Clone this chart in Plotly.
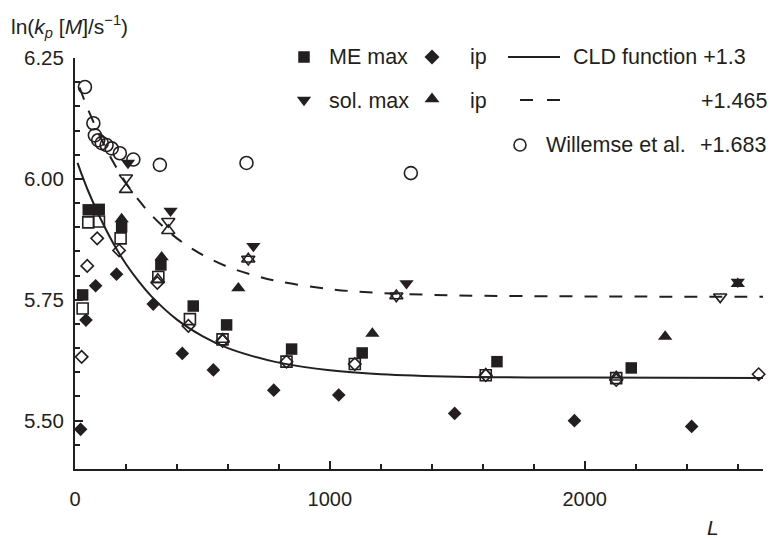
import plotly.graph_objects as go

INK = "#231f20"
FONT = "Liberation Sans, Arial, sans-serif"

# ---------------- data ----------------
me_max_L = [30, 52, 95, 183, 337, 464, 595, 850, 1127, 1656, 2183]
me_max_y = [5.760, 5.936, 5.937, 5.901, 5.822, 5.737, 5.698, 5.648, 5.640, 5.622, 5.609]

me_ip_L = [22, 43, 81, 163, 307, 421, 543, 780, 1035, 1490, 1960, 2420]
me_ip_y = [5.482, 5.708, 5.779, 5.803, 5.741, 5.639, 5.605, 5.563, 5.553, 5.515, 5.500, 5.488]

sol_max_L = [208, 375, 700, 1301, 2601]
sol_max_y = [6.033, 5.934, 5.861, 5.784, 5.787]

sol_ip_L = [183, 340, 641, 1167, 2316, 2601]
sol_ip_y = [5.917, 5.838, 5.774, 5.680, 5.674, 5.783]

open_sq_L = [30, 52, 94, 179, 327, 451, 579, 830, 1098, 1612, 2124]
open_sq_y = [5.732, 5.910, 5.912, 5.877, 5.797, 5.710, 5.668, 5.622, 5.617, 5.594, 5.588]

open_dia_L = [26, 48, 87, 173, 323, 445, 579, 830, 1098, 1612, 2124, 2683]
open_dia_y = [5.632, 5.820, 5.877, 5.852, 5.785, 5.696, 5.665, 5.622, 5.617, 5.594, 5.584, 5.596]

open_down_L = [200, 366, 680, 1261, 2532]
open_down_y = [6.002, 5.912, 5.834, 5.758, 5.756]

open_up_L = [200, 366, 325, 580, 680, 1261, 1612, 2124]
open_up_y = [5.978, 5.893, 5.792, 5.668, 5.834, 5.758, 5.596, 5.590]

will_L = [39, 72, 78, 91, 105, 124, 144, 176, 229, 333, 673, 1318]
will_y = [6.190, 6.115, 6.090, 6.080, 6.074, 6.070, 6.063, 6.053, 6.040, 6.029, 6.033, 6.012]

# CLD function curves (sampled read-off points)
cld_L = [10, 25, 50, 100, 150, 200, 250, 300, 400, 500, 600, 700, 800, 1000, 1200, 1500, 2000, 2700]
cld_y = [6.033, 6.011, 5.977, 5.918, 5.867, 5.824, 5.788, 5.757, 5.709, 5.675, 5.650,
         5.633, 5.620, 5.604, 5.596, 5.591, 5.589, 5.588]
cld2_L = [18, 50, 100, 150, 200, 250, 300, 400, 500, 600, 700, 800, 1000, 1200, 1500, 2000, 2700]
cld2_y = [6.189, 6.145, 6.086, 6.035, 5.992, 5.956, 5.925, 5.877, 5.843, 5.818, 5.801,
          5.788, 5.772, 5.764, 5.759, 5.757, 5.756]

x_ticks = [0, 1000, 2000]
y_ticks = [5.50, 5.75, 6.00, 6.25]

# ---------------- layout geometry (pixels) ----------------
W, H = 771, 538
PL, PR, PT, PB = 75, 763, 58, 469
XR = [0, 2700]
YR = [5.40, 6.25]


def px_x(px):  # pixel -> paper fraction of the whole figure
    return px / W


def px_y(py):
    return (H - py) / H


fig = go.Figure()

# curves
fig.add_trace(go.Scatter(x=cld_L, y=cld_y, mode="lines", line=dict(color=INK, width=2, shape="spline"),
                         hoverinfo="skip"))
fig.add_trace(go.Scatter(x=cld2_L, y=cld2_y, mode="lines",
                         line=dict(color=INK, width=2, shape="spline", dash="13px,12px"), hoverinfo="skip"))


def pts(xs, ys, symbol, size, lw=1.6):
    fig.add_trace(go.Scatter(x=xs, y=ys, mode="markers", cliponaxis=False,
                             marker=dict(symbol=symbol, size=size, color=INK, opacity=1,
                                         line=dict(color=INK, width=lw))))


# open symbols
pts(will_L, will_y, "circle-open", 13)
pts(open_sq_L, open_sq_y, "square-open", 11)
pts(open_dia_L, open_dia_y, "diamond-open", 9.5)
pts(open_down_L, open_down_y, "triangle-down-open", 11.5)
pts(open_up_L, open_up_y, "triangle-up-open", 11.5)
# filled symbols
pts(me_max_L, me_max_y, "square", 11.5, 0)
pts(me_ip_L, me_ip_y, "diamond", 10.5, 0)
pts(sol_max_L, sol_max_y, "triangle-down", 12.5, 0)
pts(sol_ip_L, sol_ip_y, "triangle-up", 12.5, 0)

# ---------------- legend (drawn manually on a full-figure pixel subplot) ----------------
legend_glyphs = [
    (304, 57, "square", 11.5, 0),
    (432, 57, "diamond", 11.5, 0),
    (304, 100, "triangle-down", 12.5, 0),
    (432, 99, "triangle-up", 13, 0),
    (520, 145, "circle-open", 12, 1.6),
]
for gx, gy, sym, sz, lw in legend_glyphs:
    fig.add_trace(go.Scatter(x=[gx], y=[gy], xaxis="x2", yaxis="y2", mode="markers", cliponaxis=False,
                             marker=dict(symbol=sym, size=sz, color=INK, line=dict(color=INK, width=lw)),
                             hoverinfo="skip"))

shapes = [
    dict(type="line", xref="paper", yref="paper", x0=px_x(508), x1=px_x(560), y0=px_y(57), y1=px_y(57),
         line=dict(color=INK, width=2)),
    dict(type="line", xref="paper", yref="paper", x0=px_x(520), x1=px_x(533), y0=px_y(100), y1=px_y(100),
         line=dict(color=INK, width=2)),
    dict(type="line", xref="paper", yref="paper", x0=px_x(547), x1=px_x(560), y0=px_y(100), y1=px_y(100),
         line=dict(color=INK, width=2)),
]

leg_texts = [
    ("ME max", 327, 57, "left"),
    ("ip", 468, 57, "left"),
    ("CLD function +1.3", 571, 57, "left"),
    ("sol. max", 327, 101, "left"),
    ("ip", 468, 101, "left"),
    ("+1.465", 769, 101, "right"),
    ("Willemse et al.", 544, 145, "left"),
    ("+1.683", 768, 145, "right"),
]
annotations = []
for txt, x, y, anc in leg_texts:
    annotations.append(dict(text=txt, x=px_x(x), y=px_y(y), xref="paper", yref="paper",
                            xanchor=anc, yanchor="middle", showarrow=False,
                            font=dict(family=FONT, size=21.5, color=INK)))

annotations.append(dict(text="ln(<i>k</i><sub><i>p</i></sub> [<i>M</i>]/s<sup>\u22121</sup>)",
                        x=px_x(9), y=px_y(27), xref="paper", yref="paper", xanchor="left",
                        yanchor="middle", showarrow=False, font=dict(family=FONT, size=21, color=INK)))
annotations.append(dict(text="<i>L</i>", x=px_x(713), y=px_y(527), xref="paper", yref="paper",
                        xanchor="center", yanchor="middle", showarrow=False,
                        font=dict(family=FONT, size=21, color=INK)))

fig.update_layout(
    width=W, height=H,
    margin=dict(l=0, r=0, t=0, b=0, pad=0),
    paper_bgcolor="white", plot_bgcolor="rgba(0,0,0,0)",
    showlegend=False,
    font=dict(family=FONT, size=20, color=INK),
    shapes=shapes,
    annotations=annotations,
    xaxis=dict(domain=[PL / W, PR / W], anchor="y", automargin=False,
               range=XR, showgrid=False, zeroline=False, showline=True, linecolor=INK, linewidth=2,
               ticks="inside", ticklen=8, tickwidth=2, tickcolor=INK, tickvals=x_ticks,
               ticktext=[str(v) for v in x_ticks], ticklabelstandoff=11,
               tickfont=dict(family=FONT, size=20, color=INK),
               minor=dict(dtick=200, tick0=0, ticks="inside", ticklen=5, tickwidth=2, tickcolor=INK)),
    yaxis=dict(domain=[(H - PB) / H, (H - PT) / H], anchor="x", automargin=False,
               range=YR, showgrid=False, zeroline=False, showline=True, linecolor=INK, linewidth=2,
               ticks="inside", ticklen=8, tickwidth=2, tickcolor=INK, tickvals=y_ticks,
               ticktext=["%.2f" % v for v in y_ticks], ticklabelstandoff=5,
               tickfont=dict(family=FONT, size=20.5, color=INK),
               minor=dict(dtick=0.05, tick0=5.5, ticks="inside", ticklen=5, tickwidth=2, tickcolor=INK)),
    xaxis2=dict(domain=[0, 1], anchor="y2", range=[0, W], visible=False, fixedrange=True),
    yaxis2=dict(domain=[0, 1], anchor="x2", range=[H, 0], visible=False, fixedrange=True),
)

fig.write_html("out.html")
